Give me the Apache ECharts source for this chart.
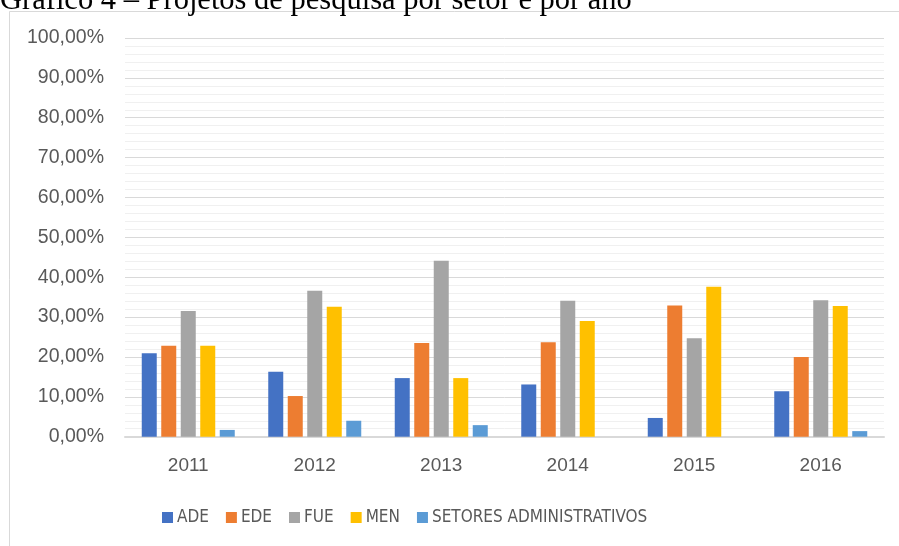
<!DOCTYPE html>
<html>
<head>
<meta charset="utf-8">
<script src="https://cdn.jsdelivr.net/npm/echarts@6/dist/echarts.min.js"></script>
<style>
html,body{margin:0;padding:0;background:#fff;}
#chart{width:899px;height:546px;}
</style>
</head>
<body>
<div id="chart"></div>
<script>
const titleText = 'Gráfico 4 – Projetos de pesquisa por setor e por ano';
const years = ['2011', '2012', '2013', '2014', '2015', '2016'];
const seriesNames = ['ADE', 'EDE', 'FUE', 'MEN', 'SETORES ADMINISTRATIVOS'];
const ADE = [20.9, 16.3, 14.7, 13.1, 4.7, 11.4];
const EDE = [22.8, 10.2, 23.5, 23.7, 32.9, 20.0];
const FUE = [31.5, 36.6, 44.1, 34.1, 24.7, 34.2];
const MEN = [22.8, 32.6, 14.7, 29.0, 37.6, 32.8];
const SETORES = [1.7, 4.0, 2.9, 0, 0, 1.4];
const colors = ['#4472C4', '#ED7D31', '#A5A5A5', '#FFC000', '#5B9BD5'];
const values = [ADE, EDE, FUE, MEN, SETORES];

const chart = echarts.init(document.getElementById('chart'), null, {renderer: 'canvas'});
const labelFont = "'Liberation Sans', Arial, sans-serif";
chart.setOption({
  animation: false,
  backgroundColor: '#fff',
  color: colors,
  graphic: [
    {type: 'rect', z: -1, shape: {x: 9.5, y: 11.5, width: 1000, height: 1000},
     style: {fill: 'none', stroke: '#d9d9d9', lineWidth: 1}},
    {type: 'text', x: 0, y: 1,
     style: {text: titleText, fill: '#000', font: "30.5px 'Liberation Serif', 'Times New Roman', serif",
              verticalAlign: 'middle', align: 'left'}}
  ],
  grid: {left: 125, right: 15, top: 38, bottom: 109.3, containLabel: false},
  legend: {
    left: 157, top: 504, itemWidth: 11, itemHeight: 11, itemGap: 17,
    icon: 'rect',
    textStyle: {color: '#595959', fontSize: 17, fontFamily: "'Liberation Sans Narrow', 'DejaVu Sans Condensed', 'Liberation Sans', sans-serif", padding: [0,0,0,-1]},
    data: seriesNames
  },
  xAxis: {
    type: 'category', data: years,
    axisLine: {lineStyle: {color: '#d9d9d9', width: 2}},
    axisTick: {show: false},
    axisLabel: {color: '#595959', fontSize: 19, fontFamily: labelFont, margin: 20}
  },
  yAxis: {
    type: 'value', min: 0, max: 100, interval: 10,
    axisLine: {show: false}, axisTick: {show: false},
    axisLabel: {color: '#595959', fontSize: 19.5, fontFamily: labelFont, margin: 21,
      formatter: v => v.toFixed(2).replace('.', ',') + '%'},
    splitLine: {lineStyle: {color: '#d9d9d9', width: 1}},
    minorTick: {show: false, splitNumber: 5},
    minorSplitLine: {show: true, lineStyle: {color: '#f0f0f0', width: 1}}
  },
  series: seriesNames.map((n, i) => ({
    name: n, type: 'bar', data: values[i], barWidth: 15, barGap: '30%',
    itemStyle: {color: colors[i]}
  }))
});
</script>
</body>
</html>
